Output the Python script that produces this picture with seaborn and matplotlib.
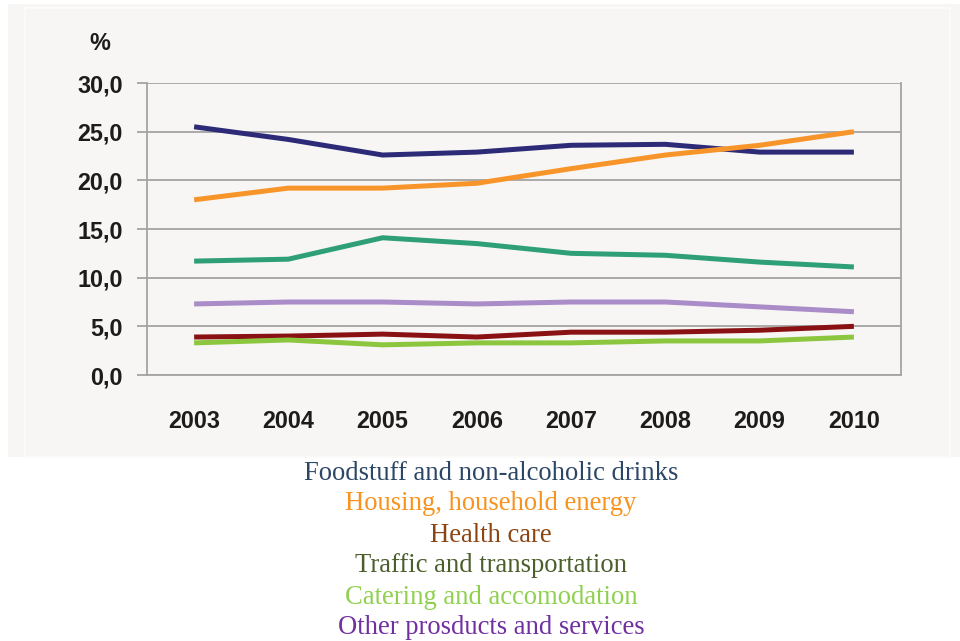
import numpy as np
import pandas as pd
import seaborn as sns
import matplotlib
matplotlib.use("Agg")
import matplotlib.pyplot as plt
from matplotlib.patches import Rectangle

# Share of household consumption expenditure by purpose, %
years = ["2003", "2004", "2005", "2006", "2007", "2008", "2009", "2010"]
foodstuff = [25.5, 24.2, 22.6, 22.9, 23.6, 23.7, 22.9, 22.9]
housing = [18.0, 19.2, 19.2, 19.7, 21.2, 22.6, 23.6, 25.0]
health_care = [3.9, 4.0, 4.2, 3.9, 4.4, 4.4, 4.6, 5.0]
traffic = [11.7, 11.9, 14.1, 13.5, 12.5, 12.3, 11.6, 11.1]
catering = [3.3, 3.6, 3.1, 3.3, 3.3, 3.5, 3.5, 3.9]
other = [7.3, 7.5, 7.5, 7.3, 7.5, 7.5, 7.0, 6.5]

series_names = [
    "Foodstuff and non-alcoholic drinks",
    "Housing, household energy",
    "Health care",
    "Traffic and transportation",
    "Catering and accomodation",
    "Other prosducts and services",
]
series_values = [foodstuff, housing, health_care, traffic, catering, other]
line_colors = ["#2d2a77", "#f7952b", "#8a1113", "#2e9f76", "#8cc63f", "#a98cc8"]
label_colors = ["#2c4766", "#f7931e", "#8b4513", "#4b5e2b", "#8fd14f", "#7030a0"]

rows = []
for name, vals in zip(series_names, series_values):
    for i, v in enumerate(vals):
        rows.append({"pos": i, "year": years[i], "value": v, "series": name})
df = pd.DataFrame(rows)

sns.set_theme(style="white")
plt.rcParams["font.family"] = ["Liberation Sans", "DejaVu Sans"]

tick_font = dict(family=["Liberation Sans", "DejaVu Sans"], fontsize=16.8,
                 color="#1c1c1c", fontweight="bold")

panel = "#f7f6f4"
fig = plt.figure(figsize=(9.6, 6.41), dpi=100, facecolor="white")
W, H = 960, 641

# Grey card behind the chart with a faint inner frame
fig.patches.append(Rectangle((8 / W, 1 - 457 / H), (960 - 8) / W, (457 - 4) / H,
                             transform=fig.transFigure, facecolor=panel,
                             edgecolor="none", zorder=-3))
fig.patches.append(Rectangle((25 / W, 1 - 457 / H), (950 - 25) / W, (457 - 8) / H,
                             transform=fig.transFigure, facecolor="none",
                             edgecolor="#fbfaf8", linewidth=1.5, zorder=-2))

ax = fig.add_axes([147 / W, 1 - 375 / H, (901 - 147) / W, (375 - 83) / H])
ax.set_facecolor(panel)

sns.lineplot(data=df, x="pos", y="value", hue="series", hue_order=series_names,
             palette=line_colors, linewidth=3.6, legend=False, ax=ax,
             solid_capstyle="butt")

grid_col = "#a3a3a5"
ax.set_xlim(-0.5, len(years) - 0.5)
ax.set_ylim(0, 30)
yt = np.arange(0, 31, 5)
ax.set_yticks(yt)
ax.set_yticklabels([f"{v:.1f}".replace(".", ",") for v in yt], **tick_font)
ax.yaxis.grid(True, color=grid_col, linewidth=1.3)
ax.set_axisbelow(True)

ax.set_xticks(range(len(years)))
ax.set_xticklabels(years, **tick_font)
ax.set_xticks(np.arange(-0.5, len(years), 1.0), minor=True)
ax.tick_params(axis="x", which="major", length=0, pad=25)
ax.tick_params(axis="x", which="minor", length=8, width=1.3, color=grid_col,
               direction="out")
ax.tick_params(axis="y", which="major", length=7.5, width=1.3, color=grid_col,
               pad=10, left=True)
ax.set_xlabel("")
ax.set_ylabel("")

for side in ["left", "right", "bottom"]:
    ax.spines[side].set_color(grid_col)
    ax.spines[side].set_linewidth(1.3)
ax.spines["top"].set_visible(False)

fig.text(100 / W, 1 - 43 / H, "%", ha="center", va="center", **tick_font)

# Series names stacked under the chart, each in its line's colour
for k, (name, col) in enumerate(zip(series_names, label_colors)):
    fig.text(491 / W, 1 - (473 + 31 * k) / H, name, ha="center", va="center",
             fontsize=19.2, color=col, family=["Liberation Serif", "DejaVu Serif"])

fig.savefig("out.png", dpi=100, facecolor="white")
